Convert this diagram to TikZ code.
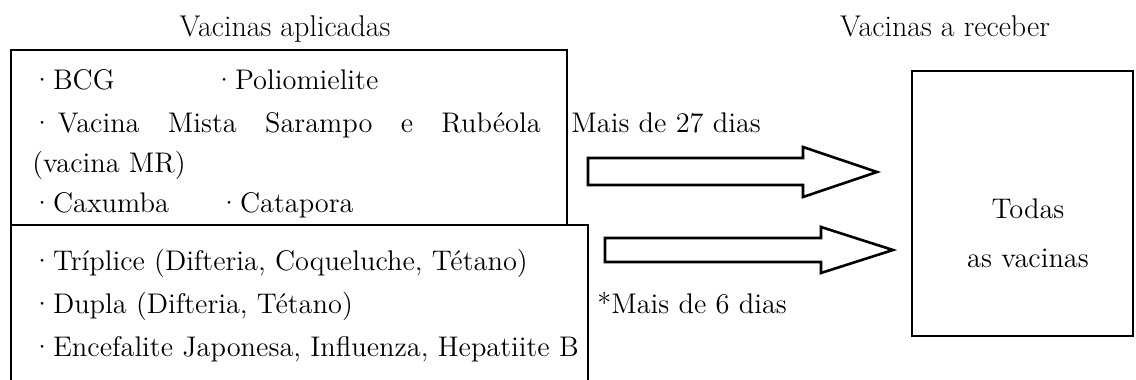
\documentclass[tikz,border=0pt]{standalone}
\usepackage{tikz}

\begin{document}
\begin{tikzpicture}[x=0.5pt,y=-0.5pt,
    every node/.style={font=\fontsize{14.2}{17}\selectfont,inner sep=0pt},
    title/.style={font=\fontsize{15}{18}\selectfont},
    box/.style={draw=black,line width=1pt},
    bigarrow/.style={draw=black,line width=1.3pt,line join=miter}]
   \useasboundingbox (0,0) rectangle (1136,380);
   % titles
   \node[title,anchor=base] (applied) at (285,36) {Vacinas aplicadas};
   \node[title,anchor=base] (toreceive) at (945,36) {Vacinas a receber};
   % left boxes
   \draw[box] (11,50) rectangle (567,225);
   \draw[box] (11,380) -- (11,225) -- (588,225) -- (588,380);
   \node[anchor=base west] (bcg) at (31,90) {\textperiodcentered BCG};
   \node[anchor=base west] (polio) at (213,90) {\textperiodcentered Poliomielite};
   \node[anchor=base west] (mr) at (31,132) {\textperiodcentered\,\makebox[241.5pt][s]{Vacina Mista Sarampo e Rub\'eola}};
   \node[anchor=base west] (mr2) at (32,172) {(vacina MR)};
   \node[anchor=base west] (caxumba) at (31,212) {\textperiodcentered Caxumba};
   \node[anchor=base west] (catapora) at (218,212) {\textperiodcentered Catapora};
   \node[anchor=base west] (triplice) at (31,270) {\textperiodcentered Tr\'iplice (Difteria, Coqueluche, T\'etano)};
   \node[anchor=base west] (dupla) at (31,313) {\textperiodcentered Dupla (Difteria, T\'etano)};
   \begin{scope}
      \clip (11,225) rectangle (587,380);
      \node[anchor=base west] (encef) at (31,356) {\textperiodcentered Encefalite Japonesa, Influenza, Hepatiite B};
   \end{scope}
   % intervals
   \node[anchor=base west] (days27) at (571,132) {Mais de 27 dias};
   \node[anchor=base west] (days6) at (597,313) {*Mais de 6 dias};
   % big arrows
   \draw[bigarrow] (588,158) -- (803,158) -- (803,147) -- (877,172) -- (803,197) -- (803,185) -- (588,185) -- cycle;
   \draw[bigarrow] (605,238) -- (821,238) -- (821,227) -- (893,250) -- (821,273) -- (821,262) -- (605,262) -- cycle;
   % target box
   \node[box,minimum width=110.5pt,minimum height=132.5pt] (all) at (1022.5,203.5) {};
   \node[anchor=base] (todas) at (1028,218) {Todas};
   \node[anchor=base] (asvacinas) at (1028,267) {as vacinas};
\end{tikzpicture}
\end{document}
